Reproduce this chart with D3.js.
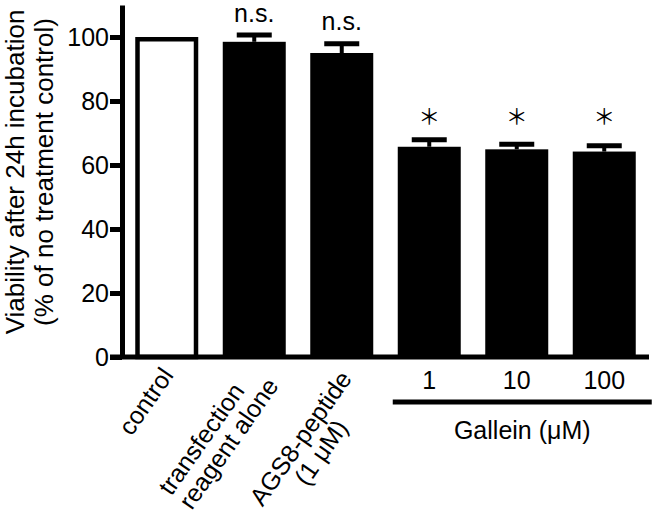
<!DOCTYPE html>
<html>
<head>
<meta charset="utf-8">
<script src="https://cdn.jsdelivr.net/npm/d3@7"></script>
<style>
  body { margin: 0; background: #fff; }
  text { font-family: "Liberation Sans", Arial, sans-serif; fill: #000; }
</style>
</head>
<body>
<script>
// data
var groups = ["control", "reagent", "ags8", "gallein1", "gallein10", "gallein100"];
var labelLines = [
    ["control"],
    ["transfection", "reagent alone"],
    ["AGS8-peptide", "(1 μM)"],
    ["1"], ["10"], ["100"]
];
var meanViability = [100, 98.5, 95.0, 65.7, 64.9, 64.2];
var semViability = [0, 2.1, 2.9, 2.2, 1.6, 1.8];
var significance = ["", "n.s.", "n.s.", "＊", "＊", "＊"];
var yTicks = [0, 20, 40, 60, 80, 100];
var yTitle = ["Viability after 24h incubation", "(% of no treatment control)"];
var galleinTitle = "Gallein (μM)";

// layout of the slanted labels: block centre relative to bar centre, line alignment
var slantCenter = [[-20, 402], [-35, 437], [-30, 446]];
var slantAlign = ["middle", "start", "middle"];

var width = 658, height = 515;
var lw = 5;
var fs = "25px";

var svg = d3.select("body").append("svg")
    .attr("width", width)
    .attr("height", height);

var x = d3.scaleBand()
    .domain(groups)
    .range([123, 648])
    .paddingInner(0.28)
    .paddingOuter(0.14);

var y = d3.scaleLinear()
    .domain([0, 110])
    .range([357, 5]);

var mid = function(d) { return x(d.key) + x.bandwidth() / 2; };

var data = groups.map(function(g, i) {
    return { key: g, mean: meanViability[i], sem: semViability[i], sig: significance[i], lines: labelLines[i] };
});

// bars
var bars = svg.append("g").attr("class", "bars");

bars.selectAll("rect")
    .data(data)
    .enter().append("rect")
    .attr("x", function(d, i) { return i == 0 ? x(d.key) + 2.25 : x(d.key); })
    .attr("width", function(d, i) { return i == 0 ? x.bandwidth() - 4.5 : x.bandwidth(); })
    .attr("y", function(d, i) { return i == 0 ? y(d.mean) + 2.25 : y(d.mean); })
    .attr("height", function(d, i) { return y(0) - y(d.mean) - (i == 0 ? 2.25 : 0); })
    .attr("fill", function(d, i) { return i == 0 ? "#fff" : "#000"; })
    .attr("stroke", function(d, i) { return i == 0 ? "#000" : "none"; })
    .attr("stroke-width", 4.5);

// error bars (upper only)
var errs = svg.append("g").attr("class", "errors")
    .selectAll("g")
    .data(data.filter(function(d) { return d.sem > 0; }))
    .enter().append("g");

errs.append("line")
    .attr("x1", mid)
    .attr("x2", mid)
    .attr("y1", function(d) { return y(d.mean); })
    .attr("y2", function(d) { return y(d.mean + d.sem); })
    .attr("stroke", "#000")
    .attr("stroke-width", 4);

errs.append("line")
    .attr("x1", function(d) { return mid(d) - 17.5; })
    .attr("x2", function(d) { return mid(d) + 17.5; })
    .attr("y1", function(d) { return y(d.mean + d.sem); })
    .attr("y2", function(d) { return y(d.mean + d.sem); })
    .attr("stroke", "#000")
    .attr("stroke-width", lw);

// significance marks
var starLevel = y(d3.max(data.slice(3), function(d) { return d.mean + d.sem; })) - 15.5;

svg.append("g").attr("class", "sig")
    .selectAll("text")
    .data(data.filter(function(d) { return d.sig; }))
    .enter().append("text")
    .attr("x", mid)
    .attr("y", function(d) {
        return d.sig == "n.s." ? y(d.mean + d.sem) - lw / 2 - 11 : starLevel;
    })
    .attr("text-anchor", "middle")
    .style("font-size", function(d) { return d.sig == "n.s." ? fs : "22px"; })
    .style("font-family", function(d) { return d.sig == "n.s." ? null : "'Noto Sans CJK JP'"; })
    .text(function(d) { return d.sig; });

// y axis
var yAxis = d3.axisLeft(y)
    .tickValues(yTicks)
    .tickSize(12)
    .tickSizeOuter(0)
    .tickPadding(1);

var ya = svg.append("g")
    .attr("transform", "translate(122,0)")
    .call(yAxis);

ya.select(".domain").attr("stroke-width", lw);
ya.selectAll(".tick line").attr("stroke-width", lw);
ya.selectAll(".tick text")
    .style("font-size", fs)
    .style("font-family", "'Liberation Sans', Arial, sans-serif")
    .attr("fill", "#000");

// x baseline
svg.append("line")
    .attr("x1", 110)
    .attr("x2", x.range()[1] + 1)
    .attr("y1", y(0))
    .attr("y2", y(0))
    .attr("stroke", "#000")
    .attr("stroke-width", lw);

// y title
var yt = svg.append("text")
    .attr("transform", "translate(24,172) rotate(-90)")
    .attr("text-anchor", "middle")
    .style("font-size", "26px");

yt.selectAll("tspan")
    .data(yTitle)
    .enter().append("tspan")
    .attr("x", 0)
    .attr("dy", function(d, i) { return i == 0 ? 0 : 28.5; })
    .text(function(d) { return d; });

// slanted category labels
data.slice(0, 3).forEach(function(d, i) {
    var n = d.lines.length;
    var g = svg.append("g")
        .attr("transform", "translate(" + (mid(d) + slantCenter[i][0]) + "," + slantCenter[i][1] + ") rotate(-55)");
    var t = g.selectAll("text")
        .data(d.lines)
        .enter().append("text")
        .attr("y", function(s, j) { return (j - (n - 1) / 2) * 25; })
        .attr("dy", "0.3em")
        .style("font-size", fs)
        .text(function(s) { return s; });
    var wMax = d3.max(t.nodes(), function(nd) { return nd.getComputedTextLength(); });
    var a = slantAlign[i];
    t.attr("text-anchor", a)
        .attr("x", a == "start" ? -wMax / 2 : 0);
});

// gallein doses
svg.append("g").attr("class", "doses")
    .selectAll("text")
    .data(data.slice(3))
    .enter().append("text")
    .attr("x", mid)
    .attr("y", 389)
    .attr("text-anchor", "middle")
    .style("font-size", fs)
    .text(function(d) { return d.lines[0]; });

var gx0 = x("gallein1") - 5;
var gx1 = x("gallein100") + x.bandwidth() + 16;

svg.append("line")
    .attr("x1", gx0)
    .attr("x2", gx1)
    .attr("y1", 402)
    .attr("y2", 402)
    .attr("stroke", "#000")
    .attr("stroke-width", lw);

svg.append("text")
    .attr("x", (gx0 + gx1) / 2)
    .attr("y", 439)
    .attr("text-anchor", "middle")
    .style("font-size", fs)
    .text(galleinTitle);
</script>
</body>
</html>
